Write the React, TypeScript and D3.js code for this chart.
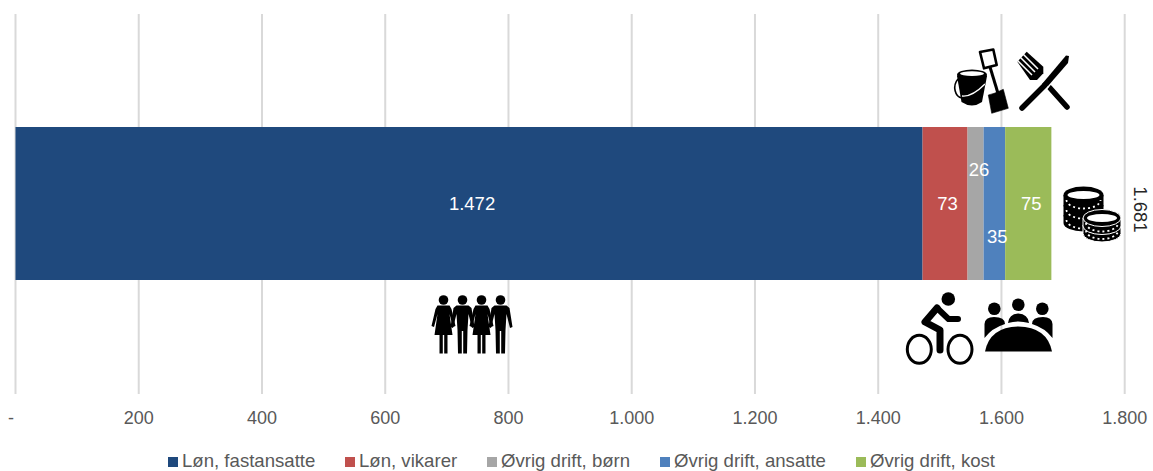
import React from "react";
import * as d3 from "d3";

const seriesNames = ["Løn, fastansatte", "Løn, vikarer", "Øvrig drift, børn", "Øvrig drift, ansatte", "Øvrig drift, kost"];
const seriesValues = [1472, 73, 26, 35, 75];
const seriesColors = ["#1F497D", "#C0504D", "#A6A6A6", "#4F81BD", "#9BBB59"];
const labelShiftX = [3, 2.5, 3.5, 3, 3];
const labelShiftY = [0, 0, -34, 33, 0];
const tickValues = [0, 200, 400, 600, 800, 1000, 1200, 1400, 1600, 1800];
const tickLabels = ["-", "200", "400", "600", "800", "1.000", "1.200", "1.400", "1.600", "1.800"];
const totalLabel = "1.681";
const legendX = [168, 345, 487, 660, 856];
const font = "'Liberation Sans', Arial, sans-serif";

const x = d3.scaleLinear().domain([0, 1800]).range([15.5, 1124.7]);
const y = d3.scaleBand().domain(["a"]).range([127, 280]);

function Woman({ cx }: { cx: number }) {
  return (
    <g transform={`translate(${cx},0)`}>
      <circle cx={0} cy={300} r={4.8} />
      <path d="M-6,305.5 L6,305.5 L8,309 L12,326 L9.5,327 L6,314 L9,335 L4,335 L4,353.5 L0.7,353.5 L0.7,335 L-0.7,335 L-0.7,353.5 L-4,353.5 L-4,335 L-9,335 L-6,314 L-9.5,327 L-12,326 L-8,309 Z" />
    </g>
  );
}
function Man({ cx }: { cx: number }) {
  return (
    <g transform={`translate(${cx},0)`}>
      <circle cx={0} cy={300} r={4.8} />
      <path d="M-6,305.5 L6,305.5 L9,308 L12,327 L9.5,328 L6,314 L5,330 L4.5,353.5 L0.7,353.5 L0.7,331 L-0.7,331 L-0.7,353.5 L-4.5,353.5 L-5,330 L-6,314 L-9.5,328 L-12,327 L-9,308 Z" />
    </g>
  );
}
function Coin({ cx, cy, rx, ry, layers, gap, halo }: { cx: number; cy: number; rx: number; ry: number; layers: number; gap: number; halo?: boolean }) {
  const bands = d3.range(layers - 1, -1, -1);
  return (
    <g>
      {bands.map((i) => {
        const oy = cy + i * gap;
        return (
          <g key={i}>
            <path d={`M${cx - rx},${oy} L${cx - rx},${oy + 8} A${rx},${ry} 0 0 0 ${cx + rx},${oy + 8} L${cx + rx},${oy} Z`} stroke={halo ? "#fff" : "none"} strokeWidth={1} />
            <ellipse cx={cx} cy={oy} rx={rx} ry={ry} stroke={halo ? "#fff" : "none"} strokeWidth={1} />
            <path d={`M${cx - rx + 3},${oy + 5} A${rx - 3},${ry} 0 0 0 ${cx + rx - 3},${oy + 5}`} fill="none" stroke="#fff" strokeWidth={1.8} strokeDasharray="2 3" />
          </g>
        );
      })}
      <ellipse cx={cx} cy={cy} rx={rx - 4} ry={ry - 4.5} fill="#fff" />
    </g>
  );
}

export default function App() {
  let acc = 0;
  const segs = seriesValues.map((v, i) => {
    const s = { v, i, x0: acc, x1: acc + v };
    acc += v;
    return s;
  });
  const bandY = y("a")!;
  const bandH = y.bandwidth();
  const fmt = (v: number) => (v >= 1000 ? d3.format(",")(v).replace(",", ".") : String(v));
  return (
    <svg width={1153} height={471} style={{ position: "absolute", left: 0, top: 0, background: "#fff" }} fontFamily={font}>
      {tickValues.map((t, i) => (
        <g key={t}>
          <line x1={x(t)} x2={x(t)} y1={14} y2={394} stroke="#D9D9D9" strokeWidth={2} />
          <text x={i === 0 ? 11 : x(t)} y={424} textAnchor="middle" fontSize={18} fill="#595959">{tickLabels[i]}</text>
        </g>
      ))}
      {segs.map((s) => (
        <rect key={s.i} x={x(s.x0)} y={bandY} width={x(s.x1) - x(s.x0)} height={bandH} fill={seriesColors[s.i]} />
      ))}
      {segs.map((s) => (
        <text key={s.i} x={(x(s.x0) + x(s.x1)) / 2 + labelShiftX[s.i]} y={bandY + bandH / 2 + labelShiftY[s.i] + 6.5} textAnchor="middle" fontSize={18.5} fill="#fff">{fmt(s.v)}</text>
      ))}
      <text transform={`translate(${x(acc) + 83},${bandY + bandH / 2 + 6}) rotate(90)`} textAnchor="middle" fontSize={18.5} fill="#262626">{totalLabel}</text>

      {/* bucket */}
      <g>
        <path d="M957,76 L961.5,102 Q972,109 982,102 L987,76 Z" />
        <ellipse cx={972} cy={75} rx={15} ry={5.6} />
        <ellipse cx={972} cy={73.6} rx={12} ry={2.4} fill="#fff" />
        <path d="M958,79 C952,86 955,97 962,98 C970,99 979,92 985,84" fill="none" stroke="#000" strokeWidth={1.6} />
        <path d="M962,96 C970,97 979,90 985,84" fill="none" stroke="#fff" strokeWidth={1.4} />
      </g>
      {/* shovel */}
      <g>
        <path d="M980,52 L993.3,49.5 L996.7,65 L984,68.3 Z" fill="#fff" stroke="#000" strokeWidth={2.6} strokeLinejoin="round" />
        <path d="M990,67 L998.5,95" stroke="#000" strokeWidth={3} />
        <path d="M988.3,95 Q994,94 1003.3,89.3 L1008.3,108.3 L991.7,113.3 Z" stroke="#000" strokeWidth={0.6} />
      </g>
      {/* fork and knife */}
      <g>
        <path d="M1026.7,51.7 L1043.3,66.7 L1043.3,73.3 L1037,80 L1030,80 L1017.3,61.7 Z" />
        <path d="M1020,57 L1035,72 M1023,54 L1038,69 M1017,60 L1032,75" stroke="#fff" strokeWidth={1.5} />
        <path d="M1050,88 L1067,107" stroke="#000" strokeWidth={5.5} strokeLinecap="round" />
        <path d="M1022,108 L1045,85 L1066,56" stroke="#fff" strokeWidth={9} fill="none" />
        <path d="M1022,108 L1045,85" stroke="#000" strokeWidth={5.5} strokeLinecap="round" />
        <path d="M1042,84 L1066,55.5 L1069,56 L1068,63 L1048,86 Z" />
      </g>
      {/* coins */}
      <Coin cx={1083.5} cy={195} rx={20} ry={8.5} layers={3} gap={10} />
      <Coin cx={1102} cy={218} rx={19} ry={8.5} layers={2} gap={7.5} halo />
      {/* women and men */}
      <Woman cx={443.5} />
      <Man cx={462.5} />
      <Woman cx={481.5} />
      <Man cx={500.5} />
      {/* bike */}
      <g>
        <circle cx={948.3} cy={299} r={6.8} />
        <ellipse cx={919.3} cy={349.3} rx={12} ry={14} fill="none" stroke="#000" strokeWidth={3} />
        <ellipse cx={960} cy={349.3} rx={12} ry={14} fill="none" stroke="#000" strokeWidth={3} />
        <path d="M937,308 L925,322 L940,330 L940,350" fill="none" stroke="#000" strokeWidth={7} strokeLinecap="round" strokeLinejoin="round" />
        <path d="M937,308 L948.5,319 L958,319" fill="none" stroke="#000" strokeWidth={6} strokeLinecap="round" strokeLinejoin="round" />
      </g>
      {/* meeting */}
      <g>
        <circle cx={994.3} cy={308.7} r={6.3} />
        <circle cx={1018.3} cy={304.7} r={6.3} />
        <circle cx={1042.3} cy={308.7} r={6.3} />
        <path d="M984.5,338 L984.5,324 Q985,317 994,317 Q1005,317 1005,324 Q992,328 984.5,338 Z" />
        <path d="M1008,323 Q1009,314 1018.3,313.5 Q1028,314 1029,323 Q1018,320 1008,323 Z" />
        <path d="M1052.5,338 L1052.5,324 Q1052,317 1043,317 Q1032,317 1032,324 Q1045,328 1052.5,338 Z" />
        <path d="M985,351.5 Q990,327 1018.3,326.5 Q1047,327 1052,351.5 Z" />
      </g>
      {seriesNames.map((n, i) => (
        <g key={n}>
          <rect x={legendX[i]} y={457} width={10} height={10} fill={seriesColors[i]} />
          <text x={legendX[i] + 14} y={467} fontSize={18.6} fill="#595959">{n}</text>
        </g>
      ))}
    </svg>
  );
}
